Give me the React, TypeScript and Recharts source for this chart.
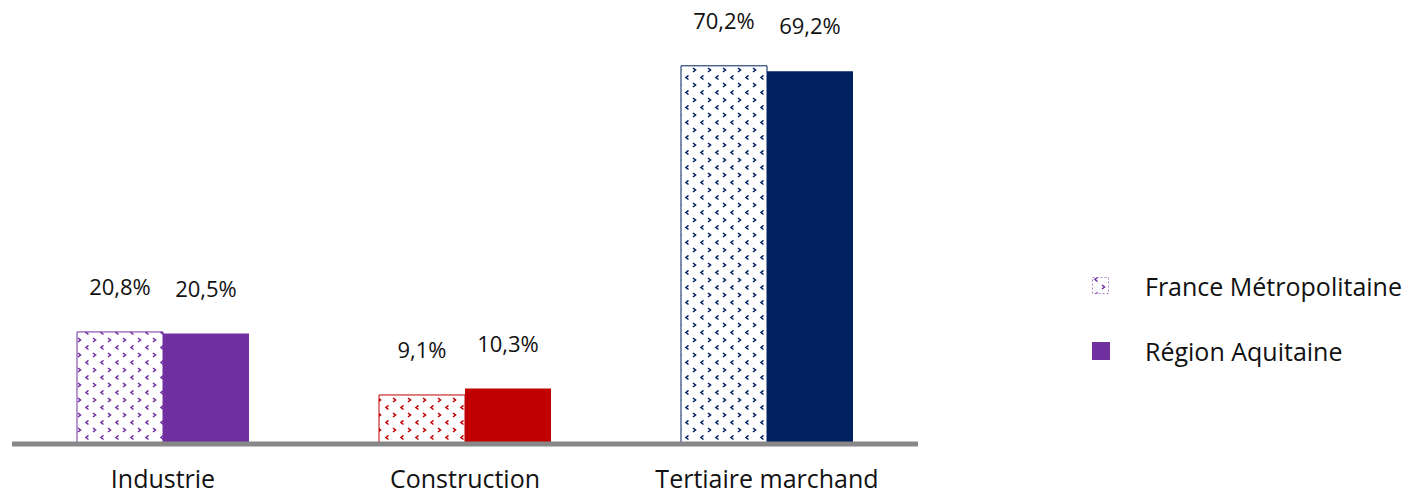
import React from 'react';
import { BarChart, Bar, XAxis, YAxis, Cell, LabelList } from 'recharts';

const categories = ['Industrie', 'Construction', 'Tertiaire marchand'];
const franceValues = [20.8, 9.1, 70.2];
const aquitaineValues = [20.5, 10.3, 69.2];
const categoryColors = ['#7030A0', '#C00000', '#002060'];
const seriesNames = ['France Métropolitaine', 'Région Aquitaine'];

const data = categories.map((name, i) => ({
  name,
  france: franceValues[i],
  aquitaine: aquitaineValues[i],
}));

const FONT = '"Open Sans", sans-serif';
const fmt = (v: number) => v.toFixed(1).replace('.', ',') + '%';

const Pattern = ({ id, color }: { id: string; color: string }) => (
  <pattern id={id} width={15} height={15} patternUnits="userSpaceOnUse">
    <rect width={15} height={15} fill="#fff" />
    <path d="M5.5,0.5 L3,2.5 L5.5,4.5" stroke={color} strokeWidth={1.6} fill="none" />
    <path d="M10,8 L12.5,10 L10,12" stroke={color} strokeWidth={1.6} fill="none" />
  </pattern>
);

const ValueLabel = (props: any) => {
  const { x, y, width, value } = props;
  return (
    <text x={x + width / 2} y={y - 46} textAnchor="middle" dominantBaseline="central"
      fontFamily={FONT} fontSize={22} fill="#111">
      {fmt(value)}
    </text>
  );
};

const CategoryTick = (props: any) => {
  const { x, y, payload } = props;
  return (
    <text x={x} y={y + 26} textAnchor="middle" dominantBaseline="central"
      fontFamily={FONT} fontSize={25} fill="#111">
      {payload.value}
    </text>
  );
};

const LegendBox = () => (
  <div style={{ position: 'absolute', left: 1084, top: 270, fontFamily: FONT, fontSize: 25, color: '#111', lineHeight: '32px' }}>
    <div style={{ display: 'flex', alignItems: 'center', height: 32 }}>
      <svg width={18} height={18} style={{ marginRight: 35 }}>
        <defs>
          <Pattern id="pat-legend" color={categoryColors[0]} />
        </defs>
        <rect x={0.5} y={0.5} width={16} height={16} fill="url(#pat-legend)" stroke="#7030A0" strokeWidth={0.6} strokeDasharray="2 2" />
      </svg>
      {seriesNames[0]}
    </div>
    <div style={{ display: 'flex', alignItems: 'center', height: 32, marginTop: 33 }}>
      <svg width={18} height={18} style={{ marginRight: 35 }}>
        <rect width={18} height={18} fill="#7030A0" />
      </svg>
      {seriesNames[1]}
    </div>
  </div>
);

export default function App() {
  return (
    <div style={{ position: 'relative', width: 1397, height: 494, marginTop: -8, background: '#fff' }}>
      <BarChart width={1397} height={494} data={data}
        margin={{ top: 13, right: 487, bottom: 20, left: 4 }} barGap={0} barSize={86}>
        <defs>
          <Pattern id="pat-0" color={categoryColors[0]} />
          <Pattern id="pat-1" color={categoryColors[1]} />
          <Pattern id="pat-2" color={categoryColors[2]} />
        </defs>
        <XAxis dataKey="name" tickLine={false} axisLine={{ stroke: '#888', strokeWidth: 5 }}
          tick={<CategoryTick />} interval={0} height={30} />
        <YAxis hide domain={[0, 80]} />
        <Bar dataKey="france" name={seriesNames[0]} isAnimationActive={false}>
          {data.map((_, i) => (
            <Cell key={i} fill={`url(#pat-${i})`} stroke={categoryColors[i]} strokeWidth={1} />
          ))}
          <LabelList dataKey="france" content={<ValueLabel />} />
        </Bar>
        <Bar dataKey="aquitaine" name={seriesNames[1]} isAnimationActive={false}>
          {data.map((_, i) => (
            <Cell key={i} fill={categoryColors[i]} />
          ))}
          <LabelList dataKey="aquitaine" content={<ValueLabel />} />
        </Bar>
      </BarChart>
      <LegendBox />
    </div>
  );
}
